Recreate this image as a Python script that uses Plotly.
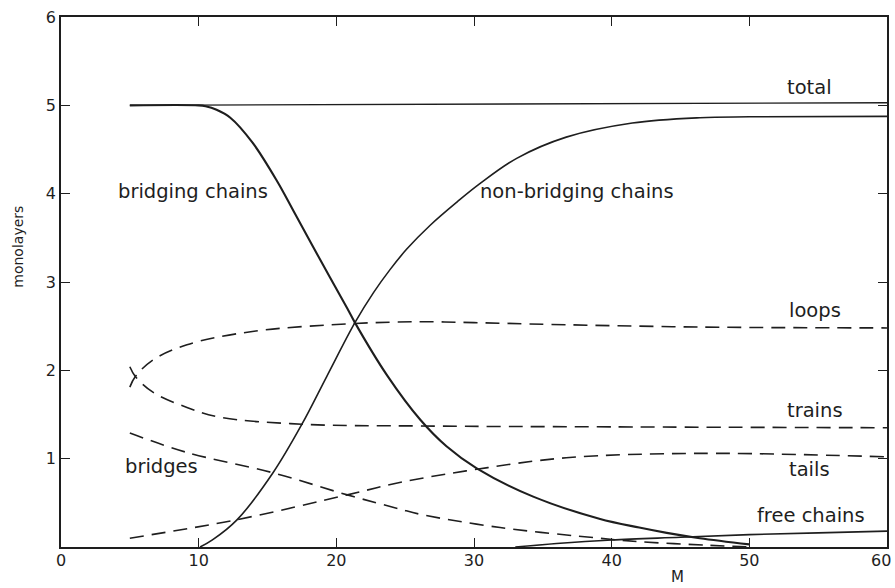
import plotly.graph_objects as go

# ---- data ----
total_x = [5, 60]
total_y = [5.0, 5.03]

bridging_x = [5, 10, 10.5, 11.3, 12.3, 13.9, 15.7, 16.9, 18.8, 20.8, 21.35, 23.7, 26.1, 28, 30.2, 34.3, 39.1, 42, 44, 46.4, 50]
bridging_y = [5.0, 5.0, 4.99, 4.95, 4.86, 4.58, 4.14, 3.80, 3.26, 2.70, 2.54, 1.94, 1.44, 1.14, 0.89, 0.57, 0.32, 0.22, 0.16, 0.10, 0.03]

nonbridging_x = [10.1, 11, 12.8, 15.4, 17.5, 19.3, 21.35, 22.7, 23.9, 25.1, 26.8, 28.8, 30.4, 33.1, 36.7, 41.5, 46.4, 50, 60]
nonbridging_y = [0.0, 0.08, 0.31, 0.84, 1.39, 1.93, 2.54, 2.88, 3.14, 3.37, 3.64, 3.91, 4.11, 4.40, 4.64, 4.80, 4.86, 4.87, 4.875]

loops_x = [5, 5.4, 6.7, 9.15, 13.9, 21.35, 26.1, 30, 35.5, 46.4, 60]
loops_y = [1.81, 1.93, 2.12, 2.29, 2.44, 2.53, 2.55, 2.54, 2.52, 2.49, 2.48]

trains_x = [5, 5.4, 6.7, 9.15, 11.5, 17.5, 26.1, 40, 60]
trains_y = [2.04, 1.93, 1.75, 1.58, 1.47, 1.39, 1.37, 1.36, 1.35]

tails_x = [5, 12.8, 20.8, 24.6, 30.2, 36.7, 46.4, 60]
tails_y = [0.10, 0.31, 0.59, 0.73, 0.88, 1.01, 1.06, 1.02]

bridges_x = [5, 9.15, 15.4, 20.8, 24.6, 26.1, 31.9, 39.1, 42, 47, 50]
bridges_y = [1.29, 1.07, 0.84, 0.59, 0.43, 0.37, 0.22, 0.10, 0.06, 0.02, 0.0]

free_x = [33, 36, 40, 45, 50, 55, 60]
free_y = [0.0, 0.04, 0.08, 0.11, 0.14, 0.16, 0.18]

x_ticks = [0, 10, 20, 30, 40, 50, 60]
x_tick_text = ["0", "10", "20", "30", "40", "50", ""]   # "60" placed as annotation (edge)
y_ticks = [1, 2, 3, 4, 5, 6]

INK = "#1e1e1e"
FONT = "DejaVu Sans"

fig = go.Figure()

def solid(x, y, w):
    fig.add_trace(go.Scatter(x=x, y=y, mode="lines",
                             line=dict(color=INK, width=w, shape="spline", smoothing=1.0),
                             hoverinfo="skip", showlegend=False))

def dashed(x, y, w=1.6):
    fig.add_trace(go.Scatter(x=x, y=y, mode="lines",
                             line=dict(color=INK, width=w, shape="spline", smoothing=1.0,
                                       dash="14px,8px"),
                             hoverinfo="skip", showlegend=False))

solid(total_x, total_y, 1.4)
solid(bridging_x, bridging_y, 2.1)
solid(nonbridging_x, nonbridging_y, 1.6)
solid(free_x, free_y, 1.6)
dashed(loops_x, loops_y)
dashed(trains_x, trains_y)
dashed(tails_x, tails_y)
dashed(bridges_x, bridges_y)

labels = [
    ("total", 54.4, 5.2),
    ("bridging chains", 9.6, 4.02),
    ("non-bridging chains", 37.5, 4.02),
    ("loops", 54.8, 2.68),
    ("trains", 54.8, 1.55),
    ("tails", 54.4, 0.88),
    ("free chains", 54.5, 0.36),
    ("bridges", 7.3, 0.91),
]
ann = []
for t, x, y in labels:
    ann.append(dict(text=t, x=x, y=y, xref="x", yref="y", showarrow=False,
                    font=dict(family=FONT, size=19.5, color=INK)))
ann.append(dict(text="monolayers", x=-0.052, y=3.4, xref="paper", yref="y",
                xanchor="center", yanchor="middle",
                textangle=-90, showarrow=False,
                font=dict(family=FONT, size=14, color=INK)))
ann.append(dict(text="M", x=44.8, y=-0.0774, xref="x", yref="paper", showarrow=False,
                xanchor="center", yanchor="bottom",
                font=dict(family=FONT, size=15, color=INK)))
ann.append(dict(text="60", x=59.55, y=-0.026, xref="x", yref="paper", showarrow=False,
                xanchor="center", yanchor="middle",
                font=dict(family=FONT, size=16, color=INK)))

axis_common = dict(showgrid=False, zeroline=False, showline=True, linecolor=INK,
                   linewidth=1.5, ticks="inside", ticklen=9, tickwidth=1.2,
                   tickcolor=INK, mirror="ticks", automargin=False,
                   ticklabeloverflow="allow",
                   tickfont=dict(family=FONT, size=16, color=INK))

fig.update_layout(
    width=895, height=588,
    margin=dict(l=61, r=8, t=17, b=41),
    paper_bgcolor="white", plot_bgcolor="white",
    xaxis=dict(range=[0, 60], tickvals=x_ticks, ticktext=x_tick_text,
               ticklabelstandoff=-2, **axis_common),
    yaxis=dict(range=[0, 6], tickvals=y_ticks, ticktext=[str(v) for v in y_ticks],
               **axis_common),
    annotations=ann,
)

fig.write_html("out.html",
               config={"displayModeBar": False},
               post_script="document.body.style.margin='0';"
                           "document.documentElement.style.overflow='hidden';")
